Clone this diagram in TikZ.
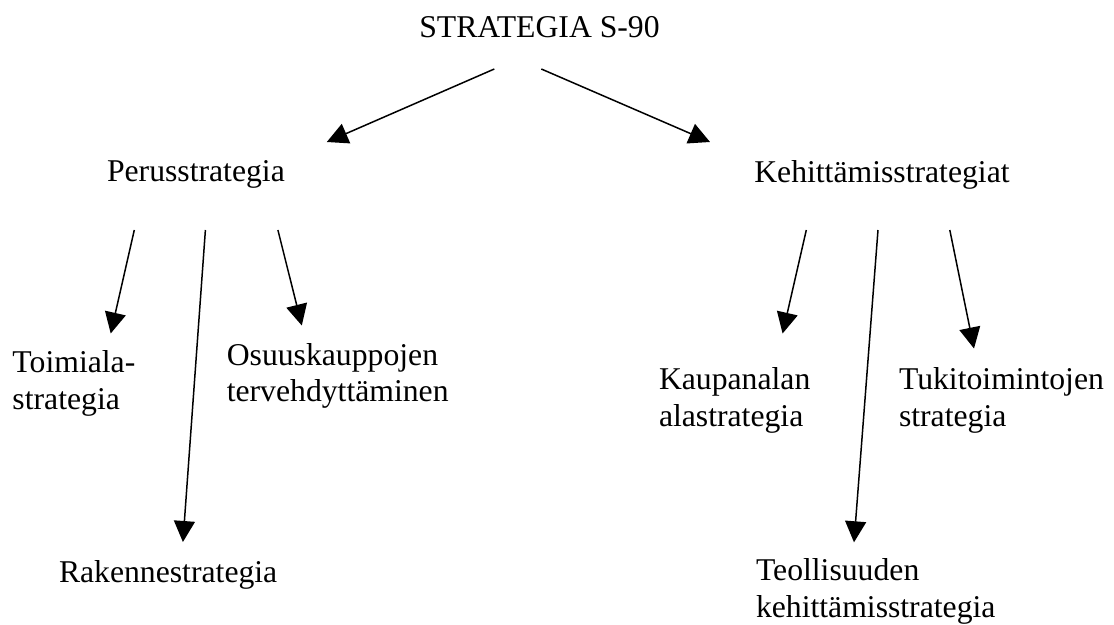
\documentclass[tikz,border=0pt]{standalone}
\usepackage{fontspec}
\setmainfont{Liberation Serif}
\usetikzlibrary{arrows.meta}
\tikzset{
  lbl/.style={anchor=base west, inner sep=0pt, outer sep=0pt, align=left,
    font=\fontsize{31.7}{36.8}\selectfont},
  conn/.style={line width=1.5pt, -{Triangle[length=21pt,width=21pt]}}
}
\begin{document}
\begin{tikzpicture}[x=1pt,y=-1pt]
\useasboundingbox (0,0) rectangle (1114,624);
% labels (multi-line labels are placed by the baseline of their last line)
\node[lbl] (top)  at (419.3,37.5) {STRATEGIA S-90};
\node[lbl] (perus) at (107,181.7) {Perusstrategia};
\node[lbl] (kehit) at (754.3,182.3) {Kehittämisstrategiat};
\node[lbl] (toimi) at (12.5,409.3) {Toimiala-\\strategia};
\node[lbl] (osuus) at (226.8,401.9) {Osuuskauppojen\\tervehdyttäminen};
\node[lbl] (rakenne) at (59,582.7) {Rakennestrategia};
\node[lbl] (kaupan) at (659,426.4) {Kaupanalan\\alastrategia};
\node[lbl] (tuki) at (899,426.4) {Tukitoimintojen\\strategia};
\node[lbl] (teoll) at (756,617.4) {Teollisuuden\\kehittämisstrategia};
% connector end points
\coordinate (topL) at (494.3,69);
\coordinate (topR) at (541.3,69);
\coordinate (perusIn) at (326.8,142);
\coordinate (kehitIn) at (710,142);
\coordinate (perusA) at (134.3,230);
\coordinate (perusB) at (205.4,230);
\coordinate (perusC) at (277.9,230);
\coordinate (toimiIn) at (110.7,333.5);
\coordinate (rakenneIn) at (182.9,542);
\coordinate (osuusIn) at (301.8,325.5);
\coordinate (kehitA) at (806.3,230);
\coordinate (kehitB) at (878,230);
\coordinate (kehitC) at (949.8,230);
\coordinate (kaupanIn) at (782.6,333.5);
\coordinate (teollIn) at (854,542.3);
\coordinate (tukiIn) at (974,348.5);
% connectors
\draw[conn] (topL) -- (perusIn);
\draw[conn] (topR) -- (kehitIn);
\draw[conn] (perusA) -- (toimiIn);
\draw[conn] (perusB) -- (rakenneIn);
\draw[conn] (perusC) -- (osuusIn);
\draw[conn] (kehitA) -- (kaupanIn);
\draw[conn] (kehitB) -- (teollIn);
\draw[conn] (kehitC) -- (tukiIn);
\end{tikzpicture}
\end{document}
